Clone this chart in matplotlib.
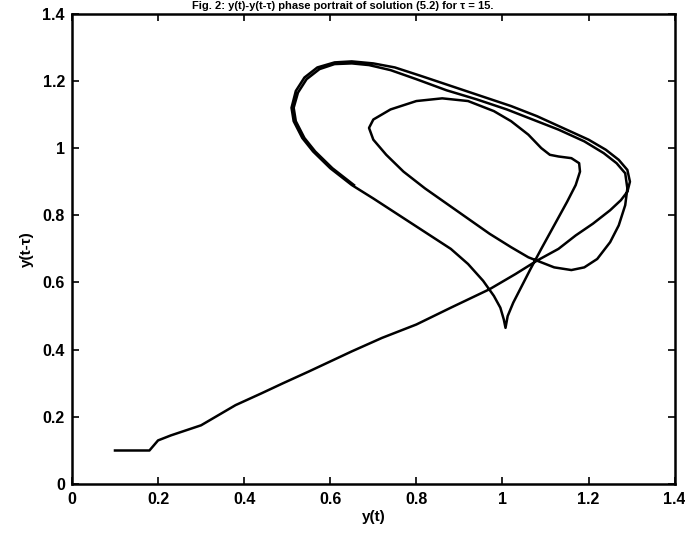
import numpy as np
import matplotlib.pyplot as plt

# trajectory of the delay equation: y(t) against y(t - tau)
y_t = [0.10, 0.18, 0.20, 0.23, 0.30, 0.34, 0.38, 0.44, 0.49, 0.55, 0.60, 0.65,
       0.72, 0.80, 0.88, 0.97, 1.03, 1.08, 1.13, 1.17, 1.21, 1.25, 1.275, 1.29,
       # first pass over the top and down to the cusp
       1.296, 1.29, 1.27, 1.24, 1.20, 1.14, 1.08, 1.02, 0.95, 0.88, 0.81, 0.75,
       0.70, 0.65, 0.61, 0.57, 0.54, 0.52, 0.51, 0.515, 0.535, 0.56, 0.60, 0.65,
       0.70, 0.76, 0.82, 0.88, 0.92, 0.955, 0.98, 0.995, 1.003, 1.007,
       # up from the cusp, round the inner loop
       1.012, 1.025, 1.045, 1.065, 1.09, 1.12, 1.15, 1.17, 1.18, 1.178, 1.16,
       1.13, 1.11, 1.09, 1.06, 1.02, 0.98, 0.92, 0.86, 0.80, 0.74, 0.70, 0.69,
       0.70, 0.73, 0.77, 0.82, 0.87, 0.92, 0.97, 1.02, 1.06, 1.09, 1.12, 1.16,
       1.19, 1.22, 1.25, 1.27, 1.285, 1.29,
       # second pass over the top
       1.285, 1.265, 1.235, 1.19, 1.13, 1.07, 1.01, 0.94, 0.87, 0.80, 0.74,
       0.69, 0.65, 0.61, 0.575, 0.545, 0.525, 0.515, 0.52, 0.54, 0.565, 0.605,
       0.655]
y_lag = [0.10, 0.10, 0.13, 0.145, 0.175, 0.205, 0.235, 0.27, 0.30, 0.335, 0.365, 0.395,
         0.435, 0.475, 0.525, 0.58, 0.625, 0.665, 0.70, 0.74, 0.775, 0.815, 0.845, 0.87,
         0.90, 0.935, 0.965, 0.995, 1.025, 1.06, 1.095, 1.125, 1.155, 1.185, 1.215, 1.24,
         1.252, 1.258, 1.255, 1.24, 1.21, 1.17, 1.12, 1.08, 1.03, 0.99, 0.94, 0.89,
         0.85, 0.80, 0.75, 0.70, 0.655, 0.605, 0.56, 0.525, 0.49, 0.465,
         0.50, 0.54, 0.59, 0.64, 0.70, 0.77, 0.84, 0.89, 0.93, 0.955, 0.97,
         0.975, 0.98, 1.00, 1.04, 1.08, 1.11, 1.14, 1.148, 1.14, 1.115, 1.085, 1.06,
         1.025, 0.98, 0.93, 0.88, 0.835, 0.79, 0.745, 0.705, 0.675, 0.66, 0.645, 0.637,
         0.645, 0.67, 0.72, 0.77, 0.83, 0.88,
         0.925, 0.955, 0.985, 1.02, 1.055, 1.085, 1.115, 1.145, 1.172, 1.205, 1.232,
         1.247, 1.252, 1.25, 1.235, 1.205, 1.165, 1.12, 1.08, 1.03, 0.99, 0.94,
         0.89]

ticks = [0, 0.2, 0.4, 0.6, 0.8, 1.0, 1.2, 1.4]
tick_labels = ['0', '0.2', '0.4', '0.6', '0.8', '1', '1.2', '1.4']

plt.rcParams['font.family'] = ['Liberation Sans', 'DejaVu Sans']

fig = plt.figure(figsize=(6.85, 5.47), dpi=100)
ax = fig.add_axes([0.105, 0.115, 0.88, 0.86])

ax.plot(y_t, y_lag, color='black', lw=1.8, solid_joinstyle='round')

ax.set_xlim(0, 1.4)
ax.set_ylim(0, 1.4)
ax.set_xticks(ticks)
ax.set_yticks(ticks)
ax.set_xticklabels(tick_labels, fontsize=11.5, fontweight='bold')
ax.set_yticklabels(tick_labels, fontsize=11.5, fontweight='bold')
ax.tick_params(direction='in', top=True, right=True, length=5, width=1.2)
ax.tick_params(axis='x', pad=6)
ax.tick_params(axis='y', pad=5)
for s in ax.spines.values():
    s.set_linewidth(1.8)

ax.set_xlabel('y(t)', fontsize=11, fontweight='bold', labelpad=2)
ax.set_ylabel('y(t-τ)', fontsize=11, fontweight='bold', labelpad=6)

fig.text(0.5, 0.999, 'Fig. 2: y(t)-y(t-τ) phase portrait of solution (5.2) for τ = 15.',
         ha='center', va='top', fontsize=8, fontweight='bold')

fig.savefig('out.png', dpi=100)
